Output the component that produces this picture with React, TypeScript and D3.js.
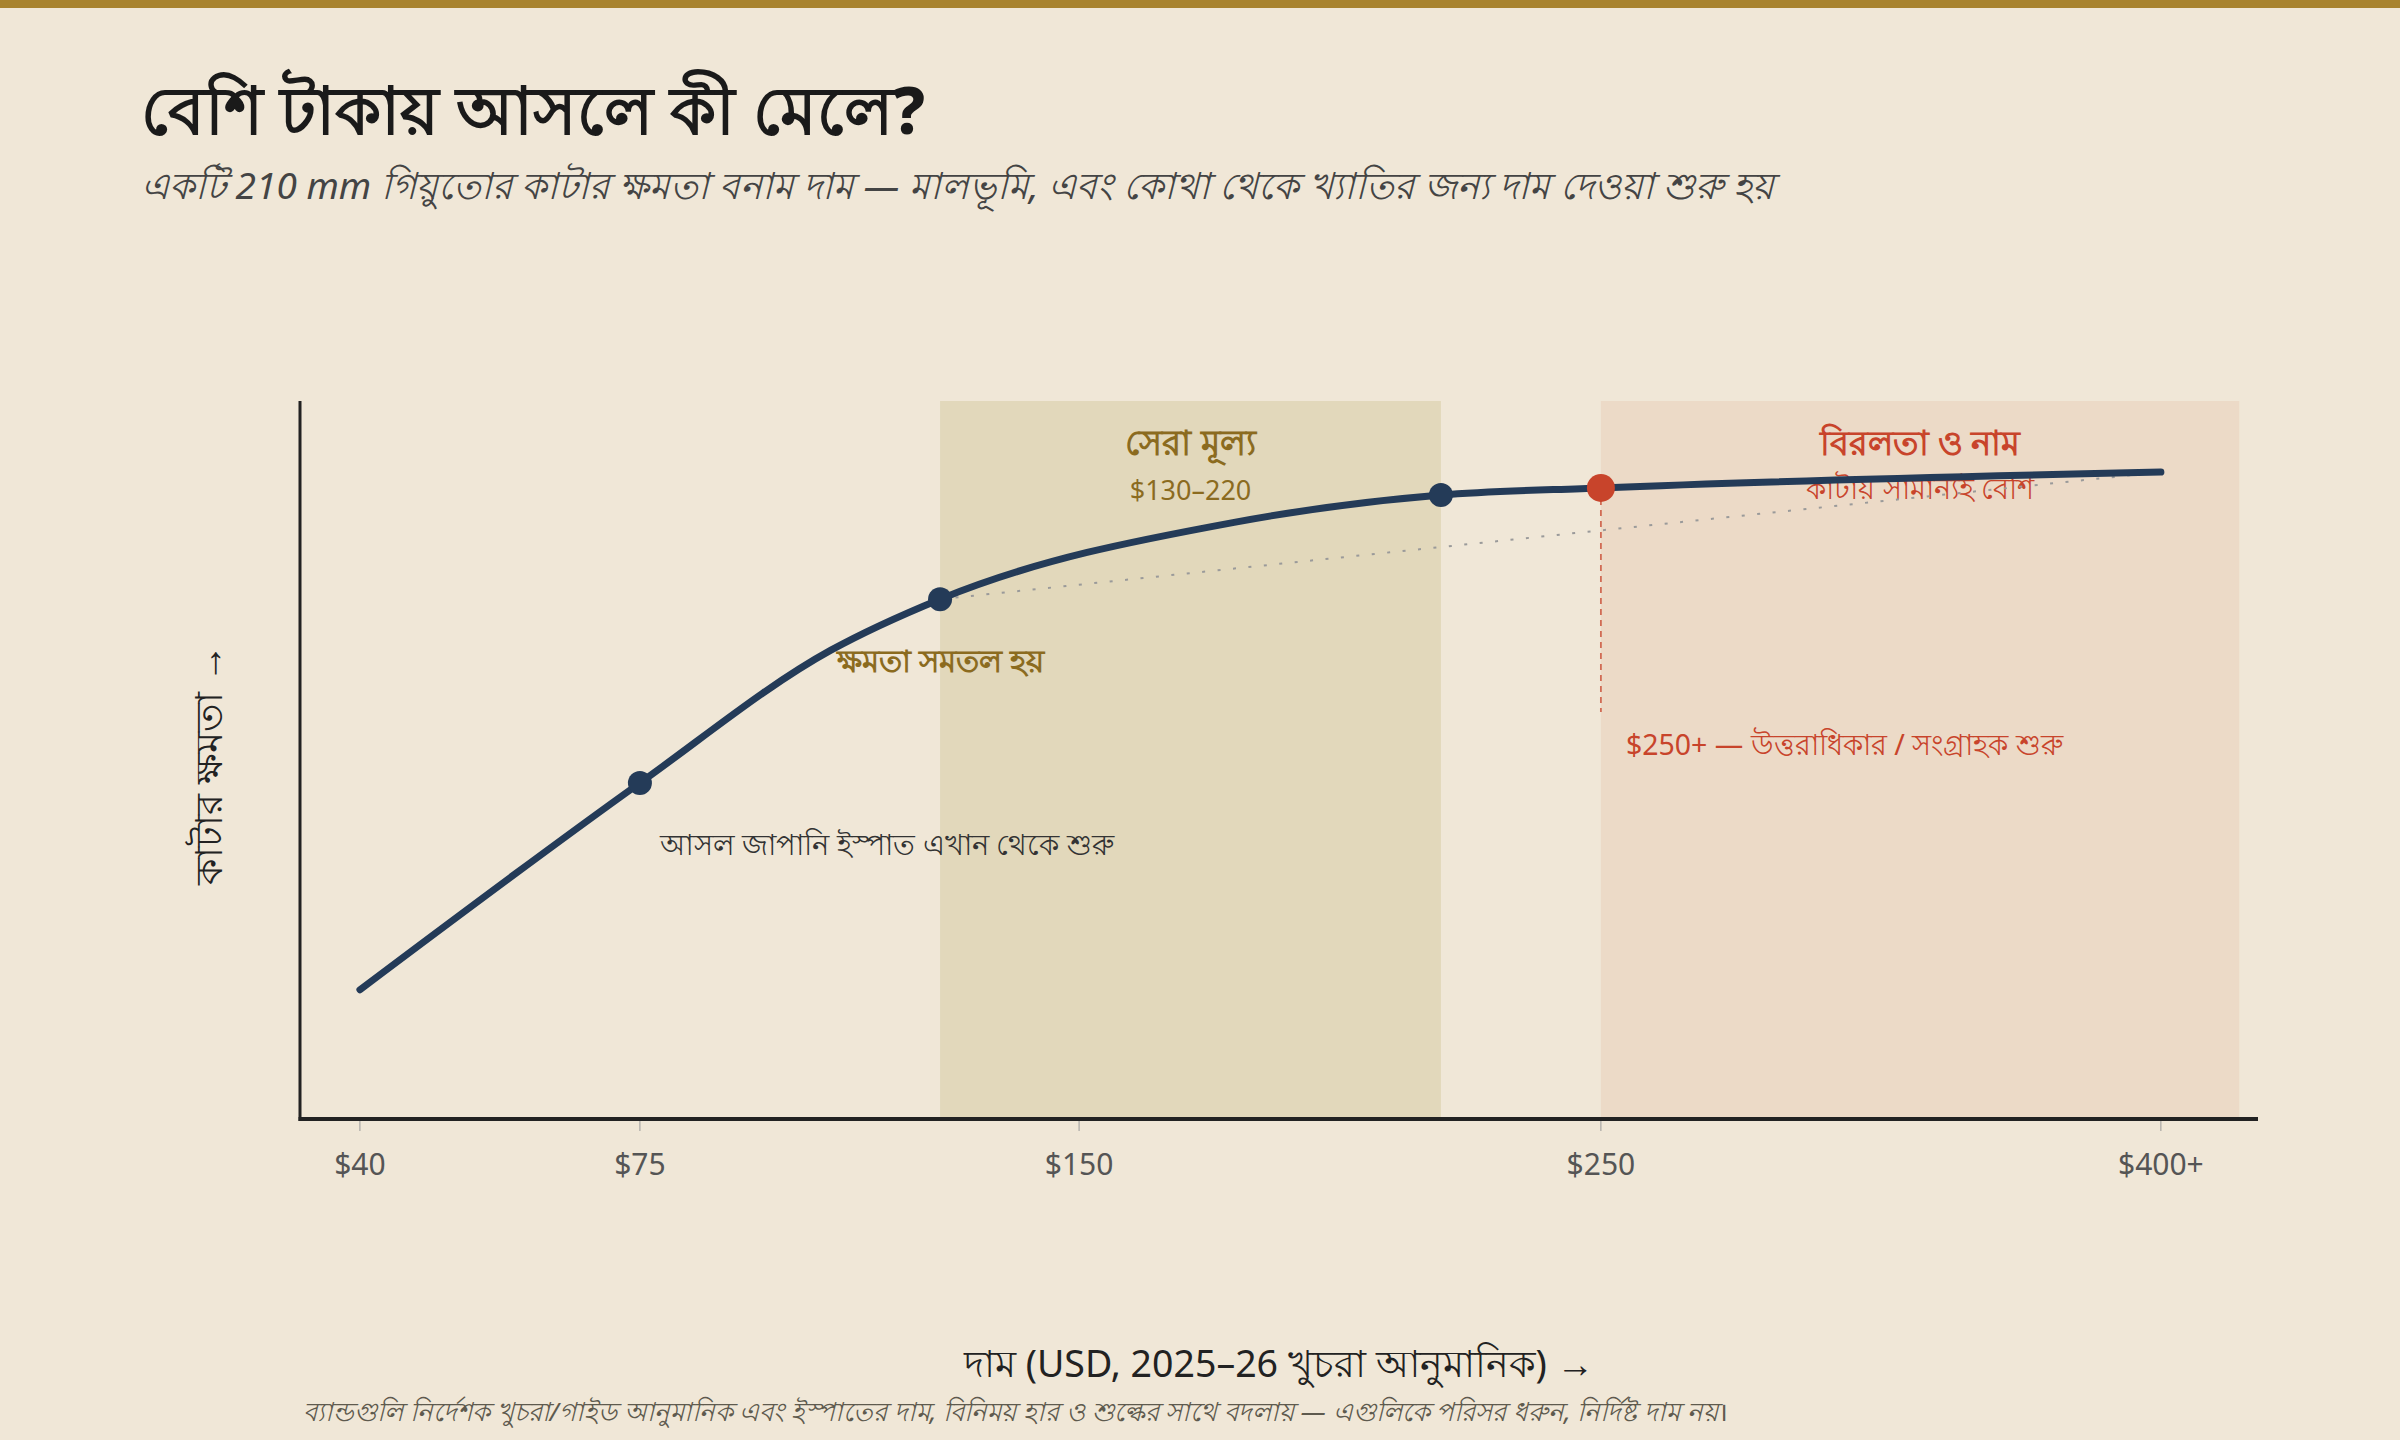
import React from 'react'
import * as d3 from 'd3'

// curve: price (USD) -> cutting ability (0–10, relative)
const PRICES = [40, 75, 110, 130, 180, 220, 250, 400]
const ABILITY = [1.8, 4.68, 6.53, 7.24, 8.31, 8.69, 8.79, 9.01]

// marked points on the curve
const DOT_PRICES = [75, 130, 220]
const RED_PRICE = 250

// non-linear price axis: stops and where they sit across the plot width
const X_STOPS = [40, 75, 130, 150, 220, 250, 400]
const X_STOP_FRAC = [0.0306, 0.1736, 0.3269, 0.3979, 0.5827, 0.6644, 0.9504]

const TICK_PRICES = [40, 75, 150, 250, 400]
const TICK_LABELS = ['$40', '$75', '$150', '$250', '$400+']

const BEST_BAND = [130, 220]
const RARE_BAND = [250, 421]
const RED_LINE_END = 5.67

const W = 2400
const H = 1440
const margin = { top: 401, right: 142, bottom: 321, left: 300 }
const innerW = W - margin.left - margin.right
const innerH = H - margin.top - margin.bottom

const BG = '#f0e7d7'
const NAVY = '#243b58'
const RED = '#c8442b'
const GOLD = '#8b6b1f'
const FONT = "'Noto Sans', sans-serif"

export default function App() {
  const x = d3.scaleLinear().domain(X_STOPS).range(X_STOP_FRAC.map((f) => f * innerW))
  const y = d3.scaleLinear().domain([0, 10]).range([innerH, 0])

  const pts: [number, number][] = PRICES.map((p, i) => [p, ABILITY[i]])
  const valueAt = (p: number) => ABILITY[PRICES.indexOf(p)]
  const line = d3.line<[number, number]>()
    .x((d) => x(d[0]))
    .y((d) => y(d[1]))
    .curve(d3.curveMonotoneX)

  const bestMid = (x(BEST_BAND[0]) + x(BEST_BAND[1])) / 2
  const rareMid = (x(RARE_BAND[0]) + x(RARE_BAND[1])) / 2

  return (
    <div style={{ position: 'absolute', left: 0, top: 0 }}>
      <svg width={W} height={H} style={{ display: 'block', background: BG, fontFamily: FONT }}>
        <rect x={0} y={0} width={W} height={8} fill="#a8832e" />

        <text x={141} y={134} fontSize={66} fontWeight={800} fill="#1a1a1a">বেশি টাকায় আসলে কী মেলে?</text>
        <text x={141} y={199} fontSize={37} fontStyle="italic" fill="#444">
          একটি 210 mm গিয়ুতোর কাটার ক্ষমতা বনাম দাম — মালভূমি, এবং কোথা থেকে খ্যাতির জন্য দাম দেওয়া শুরু হয়
        </text>

        <g transform={`translate(${margin.left},${margin.top})`}>
          {/* bands */}
          <rect x={x(BEST_BAND[0])} y={0} width={x(BEST_BAND[1]) - x(BEST_BAND[0])} height={innerH} fill="#e2d8bb" />
          <rect x={x(RARE_BAND[0])} y={0} width={x(RARE_BAND[1]) - x(RARE_BAND[0])} height={innerH} fill="#ecdac7" />

          <text x={bestMid} y={54} textAnchor="middle" fontSize={35} fontWeight={800} fill={GOLD}>সেরা মূল্য</text>
          <text x={bestMid} y={99} textAnchor="middle" fontSize={27} fill={GOLD}>$130–220</text>
          <text x={rareMid} y={54} textAnchor="middle" fontSize={34} fontWeight={800} fill={RED}>বিরলতা ও নাম</text>
          <text x={rareMid} y={98} textAnchor="middle" fontSize={29} fill={RED}>কাটায় সামান্যই বেশি</text>

          {/* annotations */}
          <text x={x(130)} y={y(valueAt(130)) + 73} textAnchor="middle" fontSize={31} fontWeight={800} fill={GOLD}>ক্ষমতা সমতল হয়</text>
          <text x={x(75) + 20} y={y(valueAt(75)) + 72} fontSize={29} fill="#333">আসল জাপানি ইস্পাত এখান থেকে শুরু</text>
          <text x={x(RED_PRICE) + 25} y={y(RED_LINE_END) + 43} fontSize={28.5} fill={RED}>$250+ — উত্তরাধিকার / সংগ্রাহক শুরু</text>

          <line x1={x(RED_PRICE)} x2={x(RED_PRICE)} y1={y(valueAt(RED_PRICE))} y2={y(RED_LINE_END)}
            stroke={RED} strokeWidth={1.8} strokeDasharray="6 5" opacity={0.75} />

          {/* straight chord from the plateau start to the top end */}
          <line x1={x(130)} y1={y(valueAt(130))} x2={x(400)} y2={y(valueAt(400))}
            stroke="#9a9a9a" strokeWidth={2} strokeDasharray="3 12.5" />

          {/* axes */}
          {TICK_PRICES.map((p, i) => (
            <g key={p} transform={`translate(${x(p)},0)`}>
              <line y1={innerH + 2} y2={innerH + 12} stroke="#999" strokeWidth={1} />
              <text y={innerH + 56} textAnchor="middle" fontSize={30} fill="#555">{TICK_LABELS[i]}</text>
            </g>
          ))}
          <line x1={0} x2={0} y1={0} y2={innerH + 2} stroke="#222" strokeWidth={3} />
          <line x1={-1.5} x2={innerW} y1={innerH} y2={innerH} stroke="#222" strokeWidth={4} />

          <path d={line(pts) || ''} fill="none" stroke={NAVY} strokeWidth={7} strokeLinecap="round" />
          {DOT_PRICES.map((p) => (
            <circle key={p} cx={x(p)} cy={y(valueAt(p))} r={12} fill={NAVY} />
          ))}
          <circle cx={x(RED_PRICE)} cy={y(valueAt(RED_PRICE))} r={14} fill={RED} />

          <text transform={`translate(${-78},${innerH / 2 + 5}) rotate(-90)`} textAnchor="middle" fontSize={38} fill="#222">কাটার ক্ষমতা →</text>
          <text x={innerW / 2} y={innerH + 258} textAnchor="middle" fontSize={37.5} fill="#222">দাম (USD, 2025–26 খুচরা আনুমানিক) →</text>
        </g>

        <text x={303} y={1421} fontSize={26} fontStyle="italic" fill="#5e5a4e">
          ব্যান্ডগুলি নির্দেশক খুচরা/গাইড আনুমানিক এবং ইস্পাতের দাম, বিনিময় হার ও শুল্কের সাথে বদলায় — এগুলিকে পরিসর ধরুন, নির্দিষ্ট দাম নয়।
        </text>
      </svg>
    </div>
  )
}
